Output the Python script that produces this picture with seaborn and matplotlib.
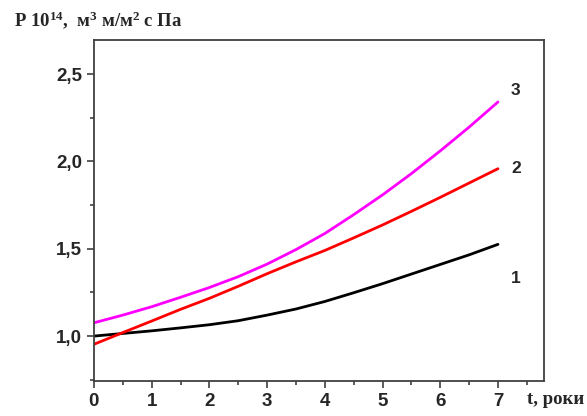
import pandas as pd
import matplotlib
matplotlib.use("Agg")
from matplotlib import pyplot as plt
from matplotlib.ticker import MultipleLocator, FuncFormatter
import seaborn as sns

# values
t = [0, 0.5, 1, 1.5, 2, 2.5, 3, 3.5, 4, 4.5, 5, 5.5, 6, 6.5, 7]
curve1 = [1.00, 1.015, 1.03, 1.047, 1.065, 1.088, 1.12, 1.155, 1.198, 1.248, 1.30, 1.355, 1.41, 1.465, 1.525]
curve2 = [0.953, 1.02, 1.086, 1.153, 1.216, 1.285, 1.357, 1.425, 1.49, 1.562, 1.636, 1.714, 1.794, 1.876, 1.958]
curve3 = [1.076, 1.12, 1.168, 1.222, 1.278, 1.34, 1.412, 1.495, 1.587, 1.695, 1.808, 1.93, 2.06, 2.196, 2.34]
curve_names = ["1", "2", "3"]
curve_colors = ["#000000", "#ff0000", "#ff00ff"]
label_pos = [(7.31, 1.33), (7.31, 1.96), (7.31, 2.405)]

df = pd.DataFrame({
    "t": t * 3,
    "P": curve1 + curve2 + curve3,
    "curve": [n for n in curve_names for _ in t],
})

sns.set_style("ticks")
plt.rcParams["font.family"] = ["Liberation Sans", "DejaVu Sans"]
plt.rcParams["mathtext.fontset"] = "custom"
plt.rcParams["mathtext.bf"] = "Liberation Serif:bold"
plt.rcParams["mathtext.rm"] = "Liberation Serif:bold"
plt.rcParams["mathtext.default"] = "bf"

fig = plt.figure(figsize=(5.87, 4.16), dpi=100)
ax = fig.add_axes([0.160, 0.085, 0.767, 0.819])

sns.lineplot(data=df, x="t", y="P", hue="curve", palette=curve_colors,
             linewidth=2, legend=False, ax=ax)

ax.set_xlim(0, 7.8)
ax.set_ylim(0.745, 2.695)
ax.xaxis.set_major_locator(MultipleLocator(1))
ax.xaxis.set_minor_locator(MultipleLocator(0.5))
ax.yaxis.set_major_locator(MultipleLocator(0.5))
ax.yaxis.set_minor_locator(MultipleLocator(0.25))
ax.yaxis.set_major_formatter(FuncFormatter(lambda v, p: f"{v:.1f}".replace(".", ",")))
ax.tick_params(which="major", length=5, width=1.2, color="#404040",
               labelsize=13.5, top=False, right=False)
ax.tick_params(which="minor", length=3, width=1.2, color="#404040", top=False, right=False)
ax.tick_params(axis="x", pad=4)
for lab in ax.get_xticklabels() + ax.get_yticklabels():
    lab.set_fontweight("bold")
for sp in ax.spines.values():
    sp.set_color("#404040")
    sp.set_linewidth(1.3)
ax.set_xlabel("")
ax.set_ylabel("")

for name, (x, y) in zip(curve_names, label_pos):
    ax.text(x, y, name, fontsize=12.5, fontweight="bold", ha="center", va="center")

fig.text(14 / 587, 1 - 20 / 416, "P 10$^{14}$,  м$^3$ м/м$^2$ с Па",
         family="Liberation Serif", fontweight="bold", fontsize=13.5, va="center", ha="left")
fig.text(527 / 587, 1 - 399 / 416, "t, роки",
         family="Liberation Serif", fontweight="bold", fontsize=13.5, va="center", ha="left")

fig.savefig("out.png", dpi=100)
